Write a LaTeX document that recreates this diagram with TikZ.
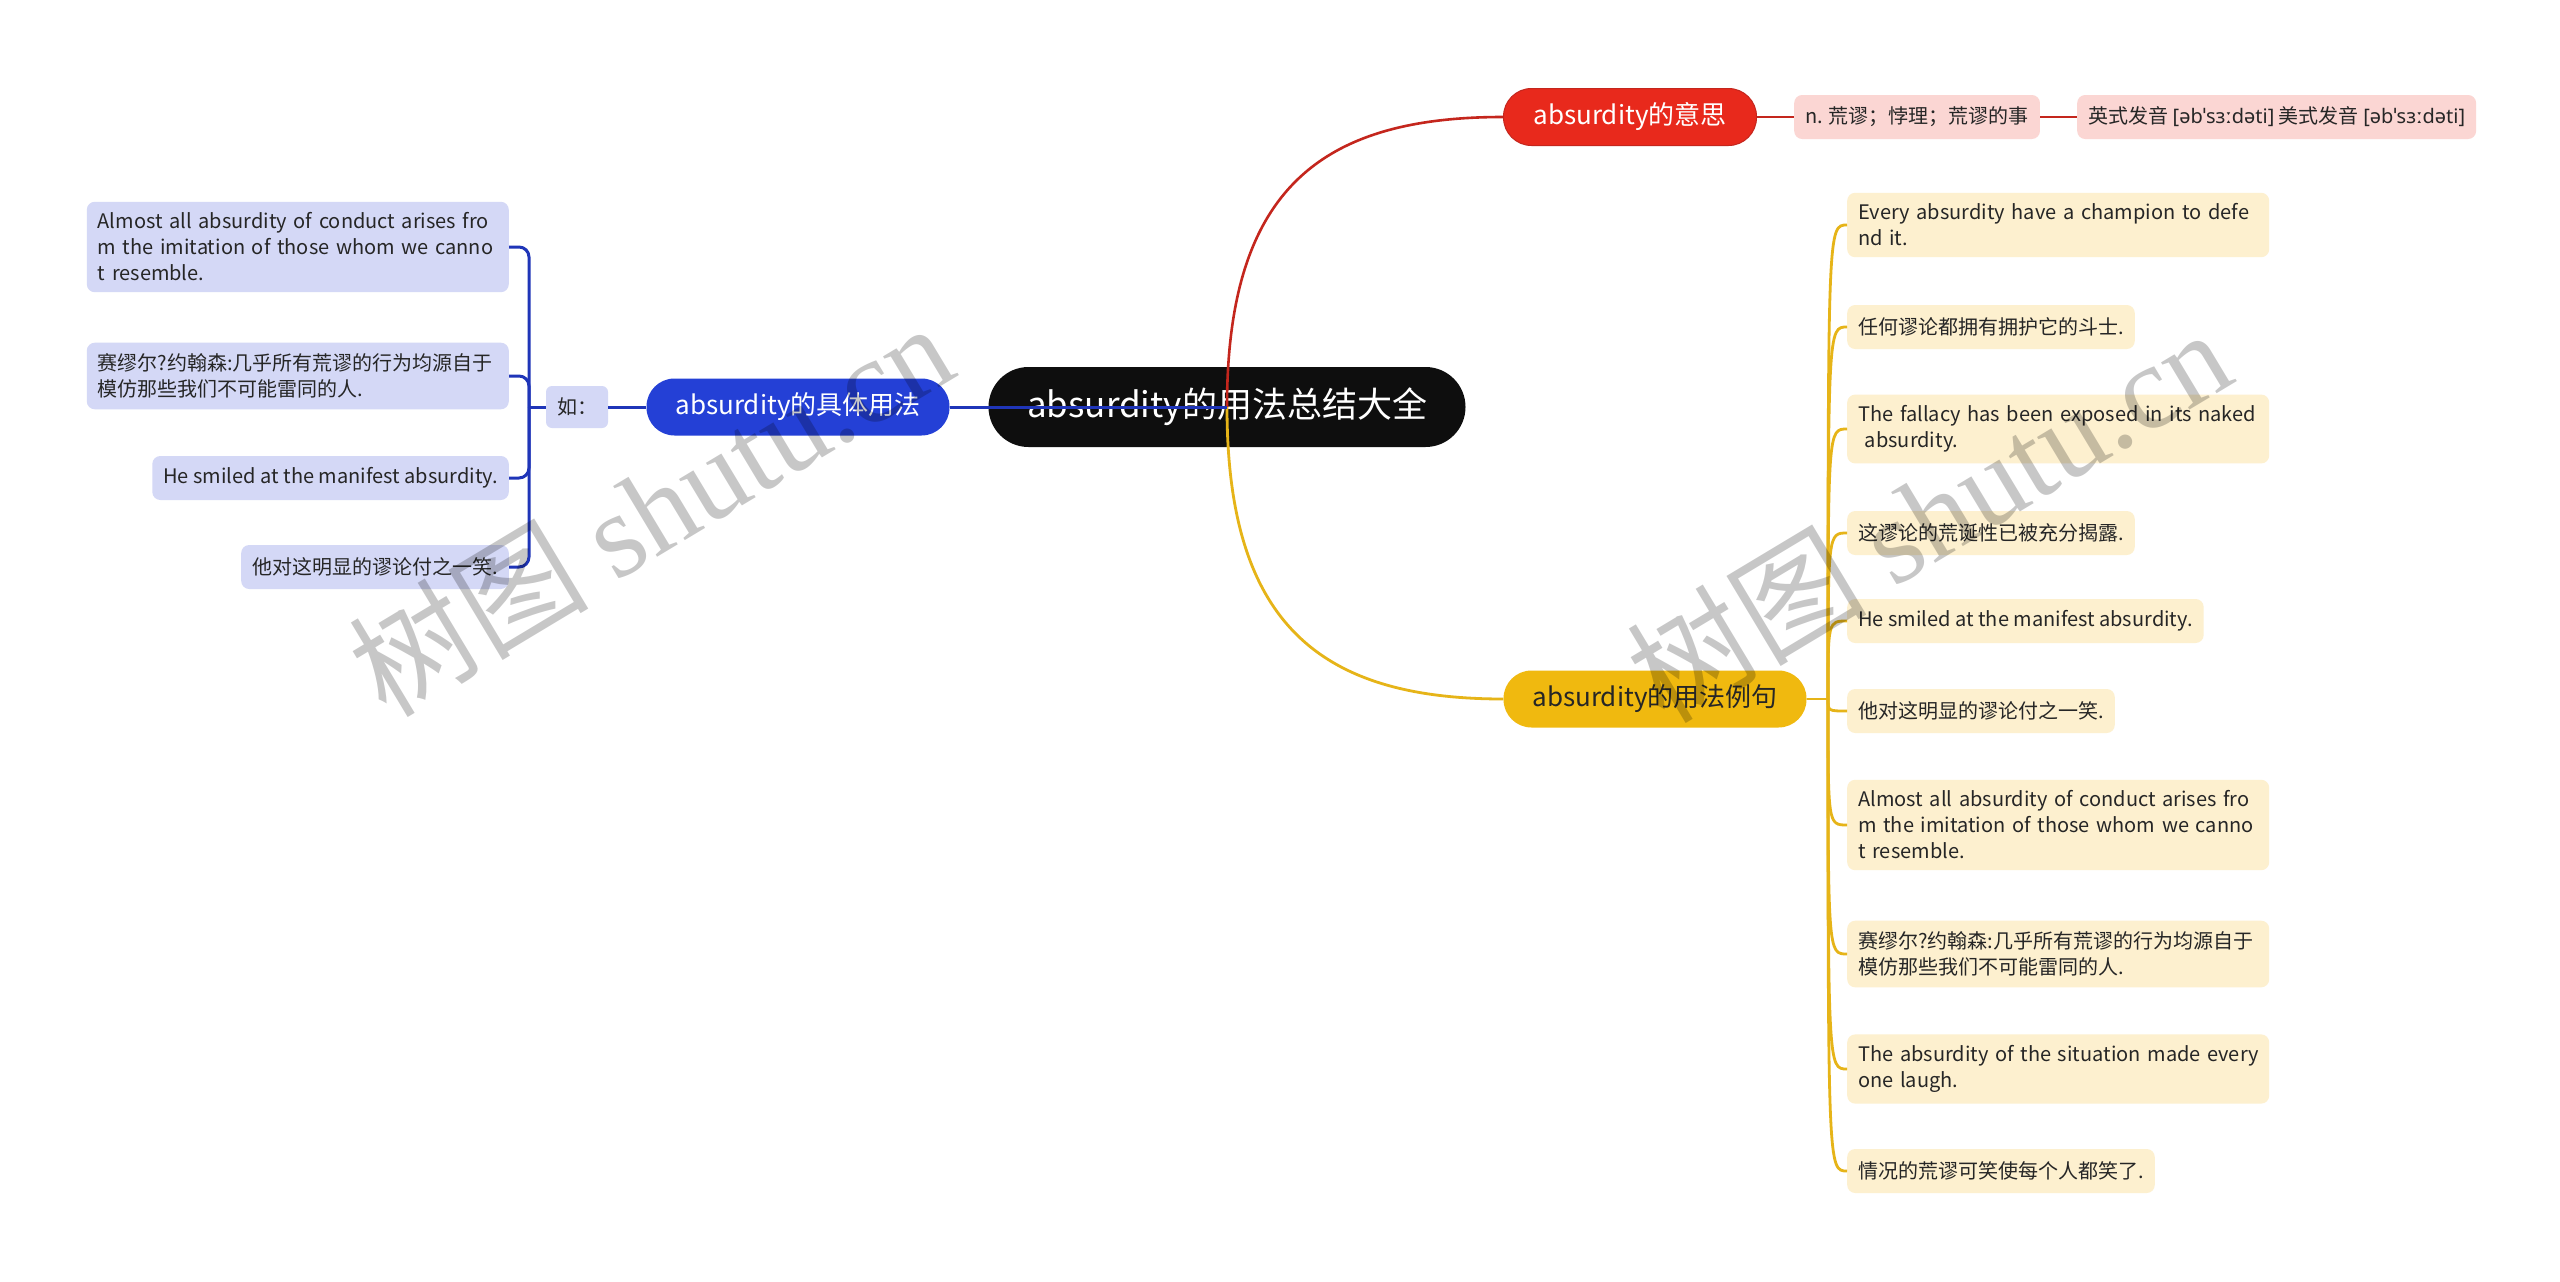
\documentclass[tikz,border=0pt]{standalone}
\usepackage{fontspec}
\setmainfont{Noto Sans CJK SC}
\newfontfamily\ipafont{Noto Sans}
\newfontfamily\wmserif{Liberation Serif}
\definecolor{rootc}{HTML}{0E0E0E}
\definecolor{redc}{HTML}{E8291C}
\definecolor{redl}{HTML}{C4261D}
\definecolor{pinkc}{HTML}{FBD6D3}
\definecolor{bluec}{HTML}{2440D6}
\definecolor{bluel}{HTML}{1F35B8}
\definecolor{lavc}{HTML}{D4D8F6}
\definecolor{yelc}{HTML}{F0B90F}
\definecolor{yell}{HTML}{E6B418}
\definecolor{creamc}{HTML}{FDF0CF}
\definecolor{txt}{HTML}{262626}
\newcommand{\keep}[1]{\mbox{#1}}
\tikzset{
  rootbox/.style={fill=rootc, text=white, minimum width=477pt, minimum height=80pt,
    rounded corners=40pt, font=\fontsize{35}{40}\selectfont, inner sep=0pt},
  topicbox/.style={minimum height=57pt, rounded corners=28pt,
    font=\fontsize{26}{30}\selectfont, inner sep=0pt},
  leafbox/.style={rounded corners=8pt, font=\fontsize{20}{26}\selectfont,
    inner xsep=11pt, inner ysep=11pt, minimum height=44pt, text=txt, align=left},
  wide/.style={text width=400pt},
  redline/.style={draw=redl, line width=2.6pt},
  blueline/.style={draw=bluel, line width=3pt},
  yelline/.style={draw=yell, line width=2.8pt},
  wm/.style={text=black, text opacity=0.22, font=\fontsize{120}{120}\selectfont, inner sep=0pt}
}
\begin{document}
\begin{tikzpicture}[x=1pt,y=-1pt]
\useasboundingbox (0,0) rectangle (2560,1282);
\fill[white] (0,0) rectangle (2560,1282);

% central and main topics
\node[rootbox] (root) at (1227,407) {absurdity的用法总结大全};
\node[topicbox, fill=redc, draw=redl, line width=1pt, text=white, minimum width=253pt] (red) at (1630,117) {absurdity的意思};
\node[topicbox, fill=bluec, text=white, minimum width=303pt] (blue) at (798,407) {absurdity的具体用法};
\node[topicbox, fill=yelc, text=txt, minimum width=303pt] (yel) at (1655,699) {absurdity的用法例句};

% meaning branch
\node[leafbox, fill=pinkc, anchor=west] (p1) at (1794,117) {n. 荒谬；悖理；荒谬的事};
\node[leafbox, fill=pinkc, anchor=west] (p2) at (2077,117) {英式发音 {\ipafont [əbˈsɜːdəti]} 美式发音 {\ipafont [əbˈsɜːdəti]}};

% usage branch (left)
\node[leafbox, fill=lavc, rounded corners=6pt, minimum width=60pt, minimum height=42pt, align=center] (ru) at (577,407) {如：};
\node[leafbox, wide, fill=lavc, anchor=east] (l1) at (509,247) {\keep{Almost all absurdity of conduct arises fro}\\\keep{m the imitation of those whom we canno}\\\keep{t resemble.}};
\node[leafbox, wide, fill=lavc, anchor=east] (l2) at (509,376) {\keep{赛缪尔?约翰森:几乎所有荒谬的行为均源自于}\\\keep{模仿那些我们不可能雷同的人.}};
\node[leafbox, fill=lavc, anchor=east] (l3) at (509,478) {He smiled at the manifest absurdity.};
\node[leafbox, fill=lavc, anchor=east] (l4) at (509,567) {他对这明显的谬论付之一笑.};

% example branch (right)
\node[leafbox, wide, fill=creamc, anchor=west] (r1) at (1847,225) {\keep{Every absurdity have a champion to defe}\\\keep{nd it.}};
\node[leafbox, fill=creamc, anchor=west] (r2) at (1847,327) {任何谬论都拥有拥护它的斗士.};
\node[leafbox, wide, fill=creamc, anchor=west] (r3) at (1847,429) {\keep{The fallacy has been exposed in its naked}\\\keep{\ absurdity.}};
\node[leafbox, fill=creamc, anchor=west] (r4) at (1847,533) {这谬论的荒诞性已被充分揭露.};
\node[leafbox, fill=creamc, anchor=west] (r5) at (1847,621) {He smiled at the manifest absurdity.};
\node[leafbox, fill=creamc, anchor=west] (r6) at (1847,711) {他对这明显的谬论付之一笑.};
\node[leafbox, wide, fill=creamc, anchor=west] (r7) at (1847,825) {\keep{Almost all absurdity of conduct arises fro}\\\keep{m the imitation of those whom we canno}\\\keep{t resemble.}};
\node[leafbox, wide, fill=creamc, anchor=west] (r8) at (1847,954) {\keep{赛缪尔?约翰森:几乎所有荒谬的行为均源自于}\\\keep{模仿那些我们不可能雷同的人.}};
\node[leafbox, wide, fill=creamc, anchor=west] (r9) at (1847,1069) {\keep{The absurdity of the situation made every}\\\keep{one laugh.}};
\node[leafbox, fill=creamc, anchor=west] (r10) at (1847,1171) {情况的荒谬可笑使每个人都笑了.};

% connectors
\draw[redline] (root.center) .. controls (1227,190) and (1320,117) .. (red.west);
\draw[yelline] (root.center) .. controls (1227,624) and (1320,699) .. (yel.west);
\draw[blueline] (root.center) -- (blue.east);
\draw[redline] (red.east) -- (p1.west);
\draw[redline] (p1.east) -- (p2.west);
\draw[blueline] (blue.west) -- (ru.east);
\coordinate (bs) at (529,407);
\draw[blueline] (ru.west) -- (bs);
\foreach \n in {l1,l2,l3,l4}
  \draw[blueline, rounded corners=10pt] (bs) |- (\n.east);
\coordinate (ys) at (1828,699);
\draw[yelline] (yel.east) -- (ys);
\foreach \n in {r1,r2,r3,r4,r5,r6,r7,r8,r9,r10}
  \draw[yelline] (ys) .. controls (ys |- \n.west) .. (\n.west);

% watermarks
\node[wm, rotate=31] (wm1) at (650,508) {树图 {\wmserif shutu.cn}};
\node[wm, rotate=31] (wm2) at (1928,514) {树图 {\wmserif shutu.cn}};
\end{tikzpicture}
\end{document}
